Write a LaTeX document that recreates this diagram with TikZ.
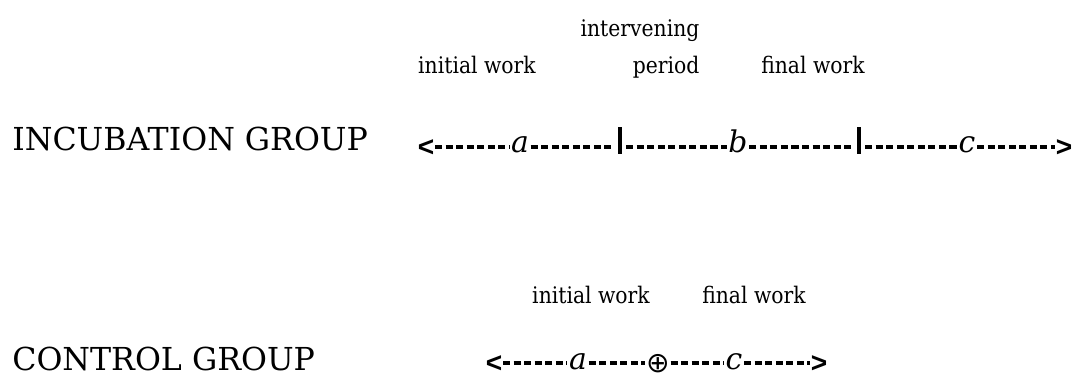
\documentclass[tikz,border=0pt]{standalone}
\usepackage{fontspec}
\setmainfont{DejaVu Serif}
\newfontfamily\labelfont{DejaVu Serif}[FakeStretch=0.89]
\newfontfamily\signfont{Liberation Sans}
\newfontfamily\circfont{DejaVu Sans}
\begin{document}
\begin{tikzpicture}[x=0.02cm,y=-0.02cm]
    \tikzset{
        group/.style={anchor=base west,inner sep=0pt,text depth=0pt,font=\fontsize{18}{20}\selectfont},
        phase/.style={anchor=base,inner sep=0pt,font=\fontsize{13}{15}\selectfont\labelfont},
        letter/.style={anchor=base,inner sep=0pt,outer sep=1pt,text depth=0pt,font=\fontsize{17}{19}\selectfont\itshape},
        sign/.style={anchor=base,inner sep=0pt,outer sep=0.5pt,text depth=0pt,font=\fontsize{16}{17}\selectfont\signfont\bfseries},
        bar/.style={fill=black,inner sep=0pt,outer xsep=2.5pt,minimum width=0.07cm,minimum height=0.54cm},
        dashline/.style={line width=2pt,dash pattern=on 4pt off 2pt}
    }
    \useasboundingbox (0,0) rectangle (1075,377);
    % incubation group
    \node[group] (incGroup) at (12,151) {INCUBATION GROUP};
    \node[phase] (incInit) at (477,74) {initial work};
    \node[phase] (incInterv) at (640,37) {intervening};
    \node[phase] (incPeriod) at (666,74) {period};
    \node[phase] (incFinal) at (813,74) {final work};
    \coordinate (incLine) at (0,147);
    \node[sign] (incL) at (426,157) {<};
    \node[letter] (incA) at (520,153) {a};
    \node[bar] (incBarA) at (620,141) {};
    \node[letter] (incB) at (738,153) {b};
    \node[bar] (incBarB) at (859,141) {};
    \node[letter] (incC) at (967,153) {c};
    \node[sign] (incR) at (1064,157) {>};
    \foreach \from/\to in {incL/incA,incA/incBarA,incBarA/incB,incB/incBarB,incBarB/incC,incC/incR} {
        \draw[dashline] (\from.east |- incLine) -- (\to.west |- incLine);
    }
    % control group
    \node[group] (ctlGroup) at (12,371) {CONTROL GROUP};
    \node[phase] (ctlInit) at (591,304) {initial work};
    \node[phase] (ctlFinal) at (754,304) {final work};
    \coordinate (ctlLine) at (0,363);
    \node[sign] (ctlL) at (494,373) {<};
    \node[letter] (ctlA) at (578,370) {a};
    \node[sign,anchor=center,font=\fontsize{16}{18}\selectfont\circfont] (ctlPlus) at (658,363) {⊕};
    \node[letter] (ctlC) at (734,370) {c};
    \node[sign] (ctlR) at (819,373) {>};
    \foreach \from/\to in {ctlL/ctlA,ctlA/ctlPlus,ctlPlus/ctlC,ctlC/ctlR} {
        \draw[dashline] (\from.east |- ctlLine) -- (\to.west |- ctlLine);
    }
\end{tikzpicture}
\end{document}
